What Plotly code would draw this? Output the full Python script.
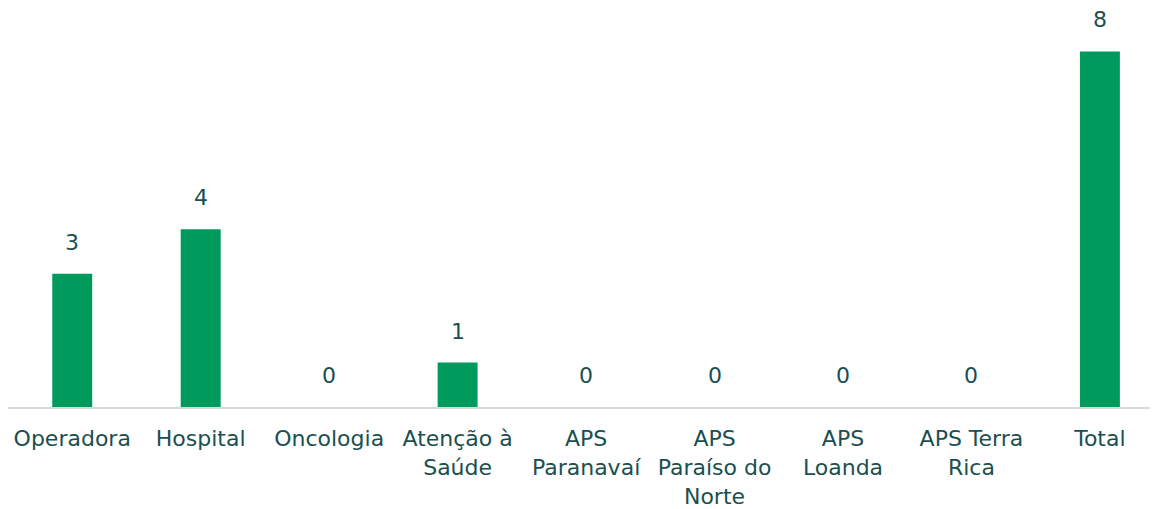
import plotly.graph_objects as go

# Categories and counts
categories = [
    "Operadora", "Hospital", "Oncologia", "Atenção à<br>Saúde",
    "APS<br>Paranavaí", "APS<br>Paraíso do<br>Norte", "APS<br>Loanda",
    "APS Terra<br>Rica", "Total",
]
values = [3, 4, 0, 1, 0, 0, 0, 0, 8]

bar_color = "#009B5C"
text_color = "#1B4F4F"
font_family = "DejaVu Sans"

fig = go.Figure(
    go.Bar(
        x=categories,
        y=values,
        marker=dict(color=bar_color, line=dict(width=0)),
    )
)

# Value labels above each bar
for cat, val in zip(categories, values):
    fig.add_annotation(
        x=cat, y=val, text=str(val), showarrow=False,
        yanchor="bottom", yshift=17,
        font=dict(family=font_family, size=22, color=text_color),
    )

fig.update_layout(
    width=1155, height=509,
    margin=dict(l=8, r=5, t=7, b=102),
    paper_bgcolor="white", plot_bgcolor="white",
    bargap=0.689,
    showlegend=False,
    font=dict(family=font_family, size=22, color=text_color),
    xaxis=dict(
        range=[-0.5, 8.39], automargin=False,
        showline=True, linecolor="#D9D9D9", linewidth=2,
        ticks="outside", ticklen=11, tickcolor="rgba(0,0,0,0)",
        tickfont=dict(family=font_family, size=22, color=text_color),
        showgrid=False,
    ),
    yaxis=dict(
        range=[0, 9.0], visible=False, showgrid=False, zeroline=False,
        automargin=False,
    ),
)

fig.write_html("out.html")
